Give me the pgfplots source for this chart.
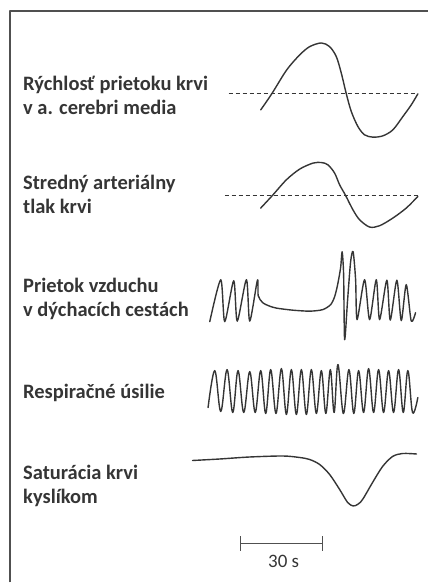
\documentclass[border=0pt]{standalone}
\usepackage{pgfplots}
\pgfplotsset{compat=1.18}
\usepackage{fontspec}
\setmainfont{Carlito}
\definecolor{ink}{HTML}{353535}
\definecolor{frame}{HTML}{505050}
\begin{document}
\begin{tikzpicture}
\begin{axis}[scale only axis, width=428bp, height=583bp,
  xmin=0, xmax=428, ymin=0, ymax=583, y dir=reverse,
  hide axis, clip=false,
  every axis plot/.append style={ink, line width=1.4bp, line join=round, line cap=round}]
% bounding box
\addplot[draw=none] coordinates {(0,0) (428,583)};
% frame
\addplot[frame, line width=1.3bp, line cap=butt] coordinates {(10,583) (10,11) (428,11)};
% MCA flow
\addplot[smooth, tension=0.5] coordinates {
(261,110) (272,94) (287,70) (300,55) (310,46.7) (321.7,43) (330,46.7) (336.7,56.7)
(341.7,73.3) (346.7,94) (351.7,111.7) (358.3,126.7) (365,135) (373.3,137.3)
(383.3,136) (393.3,130) (403.3,116.7) (411.7,105) (418.3,94)};
\addplot[dash pattern=on 4bp off 3bp, line width=1.2bp, line cap=butt] coordinates {(229,94) (418,94)};
% Mean arterial pressure
\addplot[smooth, tension=0.5] coordinates {
(261,208.3) (272.7,195.7) (286.7,180) (300,169.3) (313.3,163.3) (321.7,162.7)
(328.3,165) (335,173.3) (340,185) (346,195.7) (353.3,210) (360,220) (370,227.3)
(380,226) (393.3,218.3) (406.7,208.3) (418.3,196.7)};
\addplot[dash pattern=on 4bp off 3bp, line width=1.2bp, line cap=butt] coordinates {(225,196) (418,196)};
% Airflow
\addplot[smooth, tension=0.45] coordinates {
(210,322) (221,280) (225,322) (234,281) (237.5,321.5) (246.7,280) (250,321.5) (257.7,280.5)
(258.5,296) (263,303) (270,306.5) (277,308.5) (293,310.5) (310,311.5) (323,310) (331,305)
(335,297) (338,285) (341,268) (342.5,252) (344,275) (345,340) (348,300) (351,262) (353.5,252)
(356,280) (357.5,320) (365,280) (370,320) (376.7,280) (380,320) (387.3,280.5) (390.7,320.5)
(397.3,280.5) (401.7,321) (406.7,285) (411.7,321.5) (416,313)};
% Respiratory effort
\addplot[smooth, tension=0.6] coordinates {
(208.3,408) (215,371) (221,412) (227.3,370) (233,413) (238.3,371) (244,413) (250,372)
(255.5,413) (261,371) (266,414) (271,370) (276.3,414) (281.7,369) (286.7,415) (291.7,370)
(296.7,415) (301.7,370) (306.7,415) (311.7,370) (316.7,414) (321.7,371) (326.2,414)
(330.7,370) (334.5,413) (338.3,365) (343.8,414) (349.3,370) (354.2,414) (359,371) (364,413)
(369,369) (374,413) (379,370) (384,413) (389,371) (394,413) (399,370) (403.7,413)
(408.3,371) (413,413) (418.3,398)};
% Saturation
\addplot[smooth, tension=0.5] coordinates {
(192.7,461) (220,459.5) (250,457.5) (283,456.5) (300,458) (310,460) (320,465) (330,475)
(340,490) (348,503) (353.5,506.5) (358,505) (363,500) (373,483) (383,467) (393,457)
(403,454) (417,454.5)};
% scale bar
\addplot[frame, line width=1.2bp, line cap=butt] coordinates {(240.7,537) (240.7,552)};
\addplot[frame, line width=1.2bp, line cap=butt] coordinates {(240.7,544.5) (322.7,544.5)};
\addplot[frame, line width=1.2bp, line cap=butt] coordinates {(322.7,537) (322.7,552)};
\node[anchor=base, inner sep=0pt, text=ink, font=\fontsize{19bp}{22bp}\selectfont] at (axis cs:284,568) {30 s};
% labels
\tikzset{lab/.style={anchor=base west, inner sep=0pt, text=ink, font=\fontsize{20.5bp}{24bp}\selectfont\bfseries}}
\node[lab] at (axis cs:23,91) {Rýchlosť prietoku krvi};
\node[lab] at (axis cs:23,115) {v a. cerebri media};
\node[lab] at (axis cs:23,190) {Stredný arteriálny};
\node[lab] at (axis cs:23,214) {tlak krvi};
\node[lab] at (axis cs:23,293) {Prietok vzduchu};
\node[lab] at (axis cs:23,317) {v dýchacích cestách};
\node[lab] at (axis cs:23,399) {Respiračné úsilie};
\node[lab] at (axis cs:23,480) {Saturácia krvi};
\node[lab] at (axis cs:23,504) {kyslíkom};
\end{axis}
\end{tikzpicture}
\end{document}
